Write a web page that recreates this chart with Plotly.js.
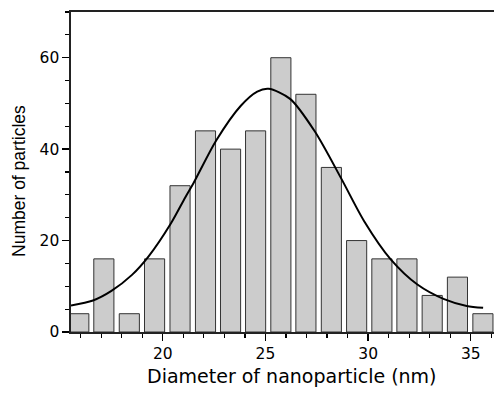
<!DOCTYPE html>
<html>
<head>
<meta charset="utf-8">
<script src="https://cdn.plot.ly/plotly-3.0.1.min.js"></script>
<style>
  html, body { margin: 0; padding: 0; background: #ffffff; overflow: hidden; }
  #chart { width: 494px; height: 396px; }
</style>
</head>
<body>
<div id="chart"></div>
<script>
// Histogram of nanoparticle diameters (bin centres in nm) and counts
const binCenters = [15.91, 17.13, 18.37, 19.60, 20.84, 22.08, 23.30, 24.52, 25.75,
                    26.97, 28.21, 29.44, 30.67, 31.89, 33.12, 34.35, 35.59];
const counts     = [4, 16, 4, 16, 32, 44, 40, 44, 60, 52, 36, 20, 16, 16, 8, 12, 4];

// Gaussian fit curve
const fitX = [15.53, 16.6, 17.5, 18.5, 19.3, 20.4, 21.1, 21.5, 22.6, 23.8, 24.6,
              25.15, 26.2, 27.4, 28.7, 29.8, 31.1, 32.4, 33.7, 34.8, 35.6];
const fitY = [5.8, 6.9, 9.0, 12.5, 16.5, 23.8, 29.5, 32.6, 41.9, 49.5, 52.6,
              53.2, 51.0, 43.9, 33.5, 24.3, 15.9, 10.4, 7.2, 5.7, 5.3];

// Axis ticks and titles
const xTickVals = [20, 25, 30, 35];
const xTickText = ['20', '25', '30', '35'];
const yTickVals = [0, 20, 40, 60];
const yTickText = ['0', '20', '40', '60'];
const xTitle = 'Diameter of nanoparticle (nm)';
const yTitle = 'Number of particles';

const tickFont = { family: 'DejaVu Sans, Arial, sans-serif', size: 15.5, color: '#000000' };

const bars = {
  type: 'bar',
  x: binCenters,
  y: counts,
  width: binCenters.map(() => 0.98),
  marker: { color: '#cccccc', line: { color: '#333333', width: 1 } },
  hoverinfo: 'x+y',
  showlegend: false
};

const fit = {
  type: 'scatter',
  mode: 'lines',
  x: fitX,
  y: fitY,
  line: { color: '#000000', width: 2, shape: 'spline', smoothing: 0.8 },
  hoverinfo: 'skip',
  showlegend: false
};

const layout = {
  width: 494,
  height: 396,
  margin: { l: 71, r: 0, t: 12, b: 64, pad: 0 },
  paper_bgcolor: '#ffffff',
  plot_bgcolor: '#ffffff',
  showlegend: false,
  xaxis: {
    range: [15.53, 36.13],
    tickmode: 'array',
    tickvals: xTickVals,
    ticktext: xTickText,
    ticks: 'outside',
    ticklen: 7,
    tickwidth: 1.3,
    tickcolor: '#000000',
    minor: { dtick: 1, tick0: 0, ticks: 'outside', ticklen: 4, tickwidth: 1.2, tickcolor: '#000000', showgrid: false },
    showline: true,
    linecolor: '#222222',
    linewidth: 1.6,
    mirror: true,
    showgrid: false,
    zeroline: false,
    tickfont: tickFont,
    fixedrange: true
  },
  yaxis: {
    range: [0, 70],
    tickmode: 'array',
    tickvals: yTickVals,
    ticktext: yTickText,
    ticks: 'outside',
    ticklen: 7,
    tickwidth: 1.3,
    tickcolor: '#000000',
    minor: { dtick: 5, tick0: 0, ticks: 'outside', ticklen: 4, tickwidth: 1.2, tickcolor: '#000000', showgrid: false },
    showline: true,
    linecolor: '#222222',
    linewidth: 1.6,
    mirror: false,
    showgrid: false,
    zeroline: false,
    tickfont: tickFont,
    fixedrange: true
  },
  annotations: [
    {
      text: xTitle,
      xref: 'paper', yref: 'paper',
      x: 0.5236, y: -0.138,
      xanchor: 'center', yanchor: 'middle',
      showarrow: false,
      font: { family: 'DejaVu Sans, Arial, sans-serif', size: 19, color: '#000000' }
    },
    {
      text: yTitle,
      xref: 'paper', yref: 'paper',
      x: -0.1229, y: 0.472,
      xanchor: 'center', yanchor: 'middle',
      textangle: -90,
      showarrow: false,
      font: { family: 'Liberation Sans, Arial, sans-serif', size: 17.5, color: '#000000' }
    }
  ]
};

Plotly.newPlot('chart', [bars, fit], layout, { displayModeBar: false, staticPlot: true });
</script>
</body>
</html>
